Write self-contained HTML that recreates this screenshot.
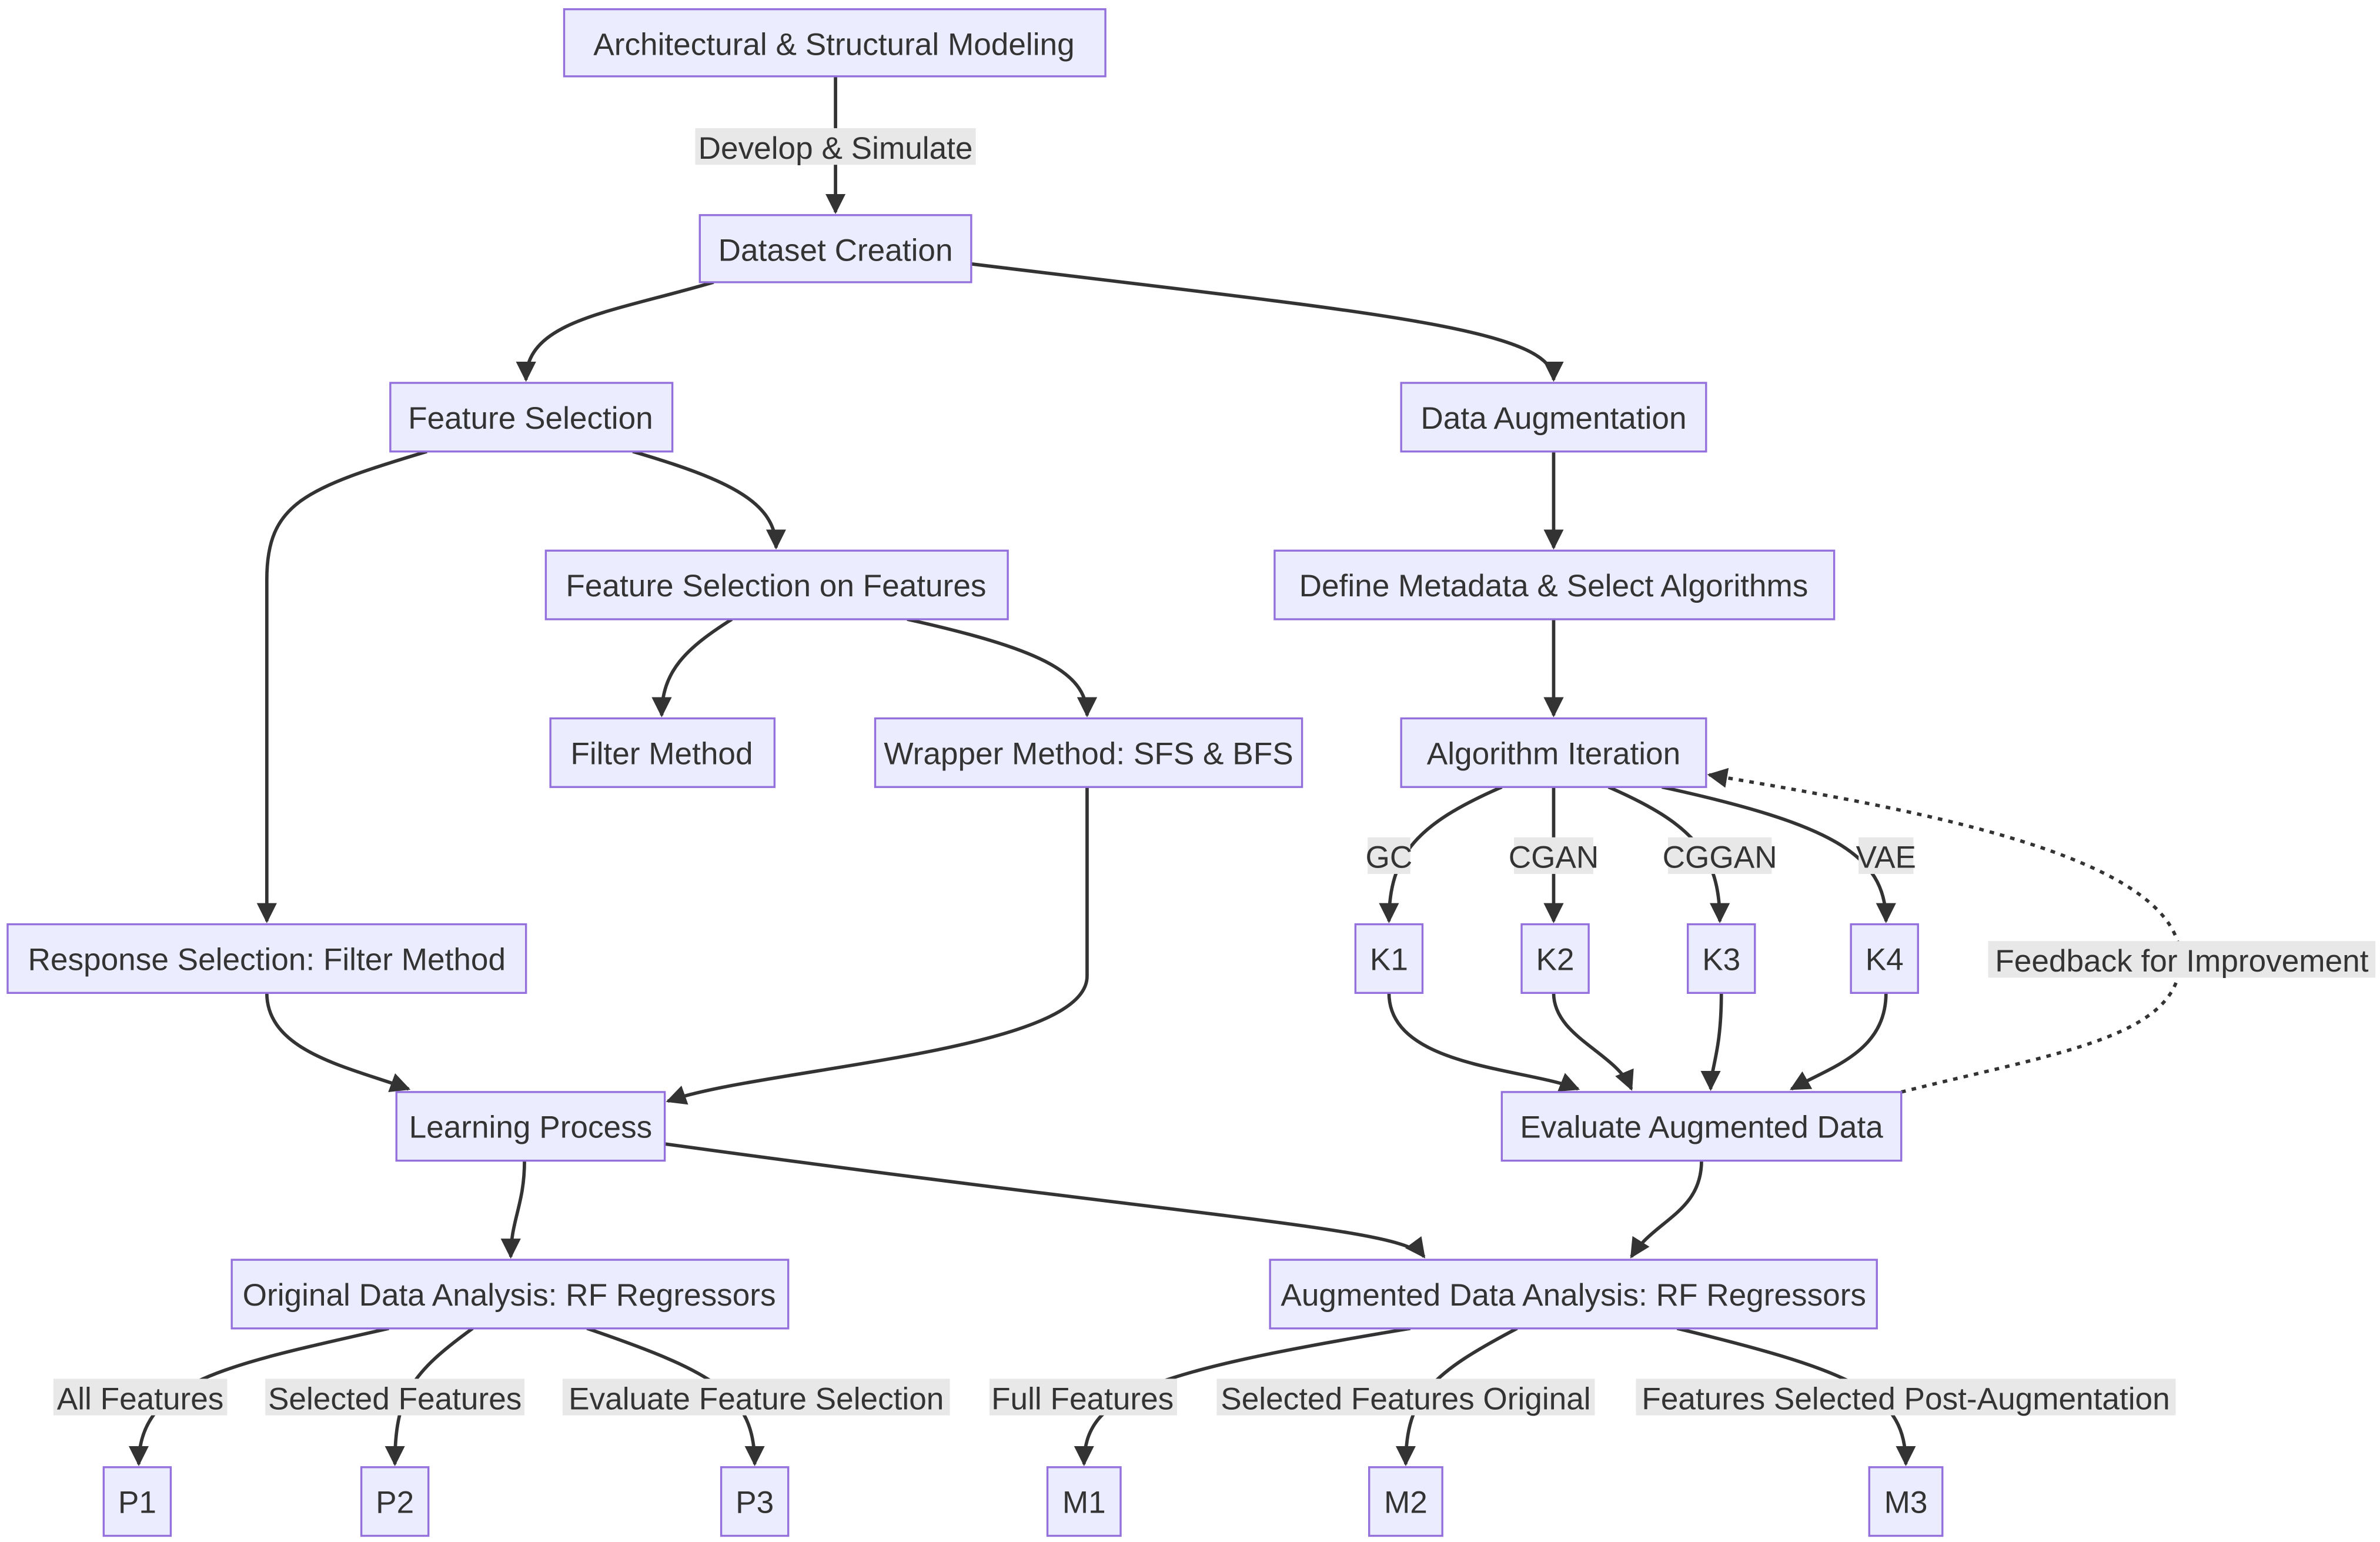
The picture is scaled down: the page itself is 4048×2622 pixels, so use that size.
<!DOCTYPE html>
<html><head><meta charset="utf-8"><style>
html,body{margin:0;padding:0;background:#fff;}
svg{display:block;}
text{font-family:"Liberation Sans",sans-serif;fill:#333;}
.n{fill:#ECECFF;stroke:#9370DB;stroke-width:1.3;}
.e{fill:none;stroke:#333;stroke-width:2.2;marker-end:url(#ah);}
.lb{fill:#e8e8e8;}
</style></head><body>
<svg width="4048" height="2622" viewBox="0 0 1561 1011" xmlns="http://www.w3.org/2000/svg">
<defs><marker id="ah" viewBox="0 0 10 10" refX="9" refY="5" markerWidth="6" markerHeight="6" orient="auto"><path d="M0,0 L10,5 L0,10 z" fill="#333"/></marker></defs>
<rect width="1561" height="1011" fill="#fff"/>
<g>
<path class="e" d="M548,50 L548,139"/>
<path class="e" d="M468,185 C400,205 345,210 345,249"/>
<path class="e" d="M637,173 C900,205 1019,215 1019,249"/>
<path class="e" d="M280,296 C200,320 175,330 175,380 L175,604"/>
<path class="e" d="M415,296 C480,315 509,330 509,359"/>
<path class="e" d="M1019,296 L1019,359"/>
<path class="e" d="M480,406 C450,425 434,440 434,469"/>
<path class="e" d="M595,406 C680,425 713,440 713,469"/>
<path class="e" d="M1019,406 L1019,469"/>
<path class="e" d="M713,516 L713,640 C713,690 500,700 438,722"/>
<path class="e" d="M175,651 C175,690 230,700 268,714"/>
<path class="e" d="M985,516 C930,540 911,560 911,604"/>
<path class="e" d="M1019,516 L1019,604"/>
<path class="e" d="M1055,516 C1110,540 1128,560 1128,604"/>
<path class="e" d="M1090,516 C1200,540 1237,560 1237,604"/>
<path class="e" d="M911,651 C911,700 1000,700 1035,714"/>
<path class="e" d="M1019,651 C1019,680 1060,690 1070,714"/>
<path class="e" d="M1129,651 C1129,690 1122,700 1122,714"/>
<path class="e" d="M1237,651 C1237,690 1200,700 1175,714"/>
<path class="e" style="stroke-dasharray:3,4" d="M1247,716 C1350,690 1430,680 1430,629 C1430,560 1250,530 1121,508"/>
<path class="e" d="M344,761 C344,790 335,800 335,824"/>
<path class="e" d="M436,750 C800,800 920,805 934,824"/>
<path class="e" d="M1116,761 C1116,795 1085,800 1070,824"/>
<path class="e" d="M255,871 C150,895 91,905 91,960"/>
<path class="e" d="M310,871 C270,900 259,915 259,960"/>
<path class="e" d="M385,871 C470,900 495,915 495,960"/>
<path class="e" d="M925,871 C750,900 711,915 711,960"/>
<path class="e" d="M995,871 C940,900 922,915 922,960"/>
<path class="e" d="M1100,871 C1220,900 1250,915 1250,960"/>
</g>
<g font-size="20.5" text-anchor="middle">
<rect class="lb" x="456" y="84" width="184" height="24"/><text x="548" y="104">Develop &amp; Simulate</text>
<rect class="lb" x="897" y="549" width="28" height="24"/><text x="911" y="569">GC</text>
<rect class="lb" x="993" y="549" width="52" height="24"/><text x="1019" y="569">CGAN</text>
<rect class="lb" x="1094" y="549" width="68" height="24"/><text x="1128" y="569">CGGAN</text>
<rect class="lb" x="1219" y="549" width="36" height="24"/><text x="1237" y="569">VAE</text>
<rect class="lb" x="1304" y="617" width="254" height="24"/><text x="1431" y="637">Feedback for Improvement</text>
<rect class="lb" x="35" y="904" width="114" height="24"/><text x="92" y="924">All Features</text>
<rect class="lb" x="174" y="904" width="170" height="24"/><text x="259" y="924">Selected Features</text>
<rect class="lb" x="369" y="904" width="254" height="24"/><text x="496" y="924">Evaluate Feature Selection</text>
<rect class="lb" x="649" y="904" width="123" height="24"/><text x="710" y="924">Full Features</text>
<rect class="lb" x="798" y="904" width="248" height="24"/><text x="922" y="924">Selected Features Original</text>
<rect class="lb" x="1073" y="904" width="354" height="24"/><text x="1250" y="924">Features Selected Post-Augmentation</text>
</g>
<g font-size="20.5" text-anchor="middle">
<rect class="n" x="370" y="6" width="355" height="44"/><text x="547" y="36">Architectural &amp; Structural Modeling</text>
<rect class="n" x="459" y="141" width="178" height="44"/><text x="548" y="171">Dataset Creation</text>
<rect class="n" x="256" y="251" width="185" height="45"/><text x="348" y="281">Feature Selection</text>
<rect class="n" x="919" y="251" width="200" height="45"/><text x="1019" y="281">Data Augmentation</text>
<rect class="n" x="358" y="361" width="303" height="45"/><text x="509" y="391">Feature Selection on Features</text>
<rect class="n" x="836" y="361" width="367" height="45"/><text x="1019" y="391">Define Metadata &amp; Select Algorithms</text>
<rect class="n" x="361" y="471" width="147" height="45"/><text x="434" y="501">Filter Method</text>
<rect class="n" x="574" y="471" width="280" height="45"/><text x="714" y="501">Wrapper Method: SFS &amp; BFS</text>
<rect class="n" x="919" y="471" width="200" height="45"/><text x="1019" y="501">Algorithm Iteration</text>
<rect class="n" x="5" y="606" width="340" height="45"/><text x="175" y="636">Response Selection: Filter Method</text>
<rect class="n" x="889" y="606" width="44" height="45"/><text x="911" y="636">K1</text>
<rect class="n" x="998" y="606" width="44" height="45"/><text x="1020" y="636">K2</text>
<rect class="n" x="1107" y="606" width="44" height="45"/><text x="1129" y="636">K3</text>
<rect class="n" x="1214" y="606" width="44" height="45"/><text x="1236" y="636">K4</text>
<rect class="n" x="260" y="716" width="176" height="45"/><text x="348" y="746">Learning Process</text>
<rect class="n" x="985" y="716" width="262" height="45"/><text x="1116" y="746">Evaluate Augmented Data</text>
<rect class="n" x="152" y="826" width="365" height="45"/><text x="334" y="856">Original Data Analysis: RF Regressors</text>
<rect class="n" x="833" y="826" width="398" height="45"/><text x="1032" y="856">Augmented Data Analysis: RF Regressors</text>
<rect class="n" x="68" y="962" width="44" height="45"/><text x="90" y="992">P1</text>
<rect class="n" x="237" y="962" width="44" height="45"/><text x="259" y="992">P2</text>
<rect class="n" x="473" y="962" width="44" height="45"/><text x="495" y="992">P3</text>
<rect class="n" x="687" y="962" width="48" height="45"/><text x="711" y="992">M1</text>
<rect class="n" x="898" y="962" width="48" height="45"/><text x="922" y="992">M2</text>
<rect class="n" x="1226" y="962" width="48" height="45"/><text x="1250" y="992">M3</text>
</g>
</svg>
</body></html>
